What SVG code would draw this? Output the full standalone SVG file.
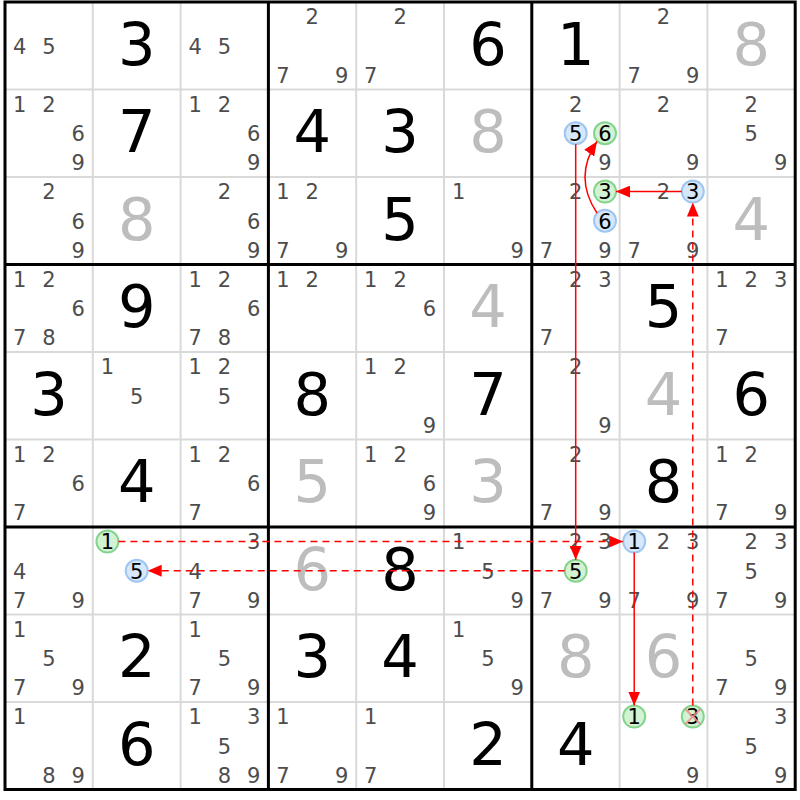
<svg xmlns="http://www.w3.org/2000/svg" width="800" height="800" viewBox="0 0 800 800">
<style>
text{font-family:"DejaVu Sans","Noto Sans",sans-serif;text-anchor:middle}
.c{font-size:21px;fill:#4d4d4d}
.h{font-size:21px;fill:#000}
.g{font-size:59px;fill:#000}
.s{font-size:59px;fill:#bdbdbd}
.c,.h{transform:translate(0px,1.2px)}
.thin{stroke:#d9d9d9;stroke-width:2}
.thick{stroke:#000;stroke-width:3}
.cb{fill:#d6e8fa;stroke:#9fc6f0;stroke-width:2}
.cg{fill:#d3f2d3;stroke:#84d48e;stroke-width:2}
.l{fill:none;stroke:#ff0000;stroke-width:1.5}
.d{stroke-dasharray:7 5}
.x{stroke:#f08a8a;stroke-width:2;opacity:0.85}
</style>
<defs>
<marker id="ah" markerUnits="userSpaceOnUse" markerWidth="15" markerHeight="12" refX="14" refY="6" orient="auto">
<path d="M0,0 L14,6 L0,12 z" fill="#ff0000"/>
</marker>
</defs>
<rect width="800" height="800" fill="#fff"/>
<g id="grid">
<path class="thin" d="M92.8,2V789.5M180.6,2V789.5M356.2,2V789.5M444,2V789.5M619.6,2V789.5M707.4,2V789.5M5,89.5H795.2M5,177H795.2M5,352H795.2M5,439.5H795.2M5,614.5H795.2M5,702H795.2"/>
<path class="thick" d="M268.4,2V789.5M531.8,2V789.5M5,264.5H795.2M5,527H795.2"/>
<rect class="thick" x="5" y="2" width="790.2" height="787.5" fill="none"/>
</g>
<g id="r0c0"><text class="c" x="19.6" y="52.5">4</text><text class="c" x="48.9" y="52.5">5</text></g>
<g id="r0c1"><text class="g" x="136.7" y="64.75">3</text></g>
<g id="r0c2"><text class="c" x="195.2" y="52.5">4</text><text class="c" x="224.5" y="52.5">5</text></g>
<g id="r0c3"><text class="c" x="312.3" y="23.3">2</text><text class="c" x="283" y="81.6">7</text><text class="c" x="341.6" y="81.6">9</text></g>
<g id="r0c4"><text class="c" x="400.1" y="23.3">2</text><text class="c" x="370.8" y="81.6">7</text></g>
<g id="r0c5"><text class="g" x="487.9" y="64.75">6</text></g>
<g id="r0c6"><text class="g" x="575.7" y="64.75">1</text></g>
<g id="r0c7"><text class="c" x="663.5" y="23.3">2</text><text class="c" x="634.2" y="81.6">7</text><text class="c" x="692.8" y="81.6">9</text></g>
<g id="r0c8"><text class="s" x="751.3" y="64.75">8</text></g>

<g id="r1c0"><text class="c" x="19.6" y="110.8">1</text><text class="c" x="48.9" y="110.8">2</text><text class="c" x="78.2" y="140">6</text><text class="c" x="78.2" y="169.1">9</text></g>
<g id="r1c1"><text class="g" x="136.7" y="152.25">7</text></g>
<g id="r1c2"><text class="c" x="195.2" y="110.8">1</text><text class="c" x="224.5" y="110.8">2</text><text class="c" x="253.8" y="140">6</text><text class="c" x="253.8" y="169.1">9</text></g>
<g id="r1c3"><text class="g" x="312.3" y="152.25">4</text></g>
<g id="r1c4"><text class="g" x="400.1" y="152.25">3</text></g>
<g id="r1c5"><text class="s" x="487.9" y="152.25">8</text></g>
<g id="r1c6"><text class="c" x="575.7" y="110.8">2</text><circle class="cb" cx="575.7" cy="133.25" r="11"/><text class="h" x="575.7" y="140">5</text><circle class="cg" cx="605" cy="133.25" r="11"/><text class="h" x="605" y="140">6</text><text class="c" x="605" y="169.1">9</text></g>
<g id="r1c7"><text class="c" x="663.5" y="110.8">2</text><text class="c" x="692.8" y="169.1">9</text></g>
<g id="r1c8"><text class="c" x="751.3" y="110.8">2</text><text class="c" x="751.3" y="140">5</text><text class="c" x="780.6" y="169.1">9</text></g>

<g id="r2c0"><text class="c" x="48.9" y="198.3">2</text><text class="c" x="78.2" y="227.5">6</text><text class="c" x="78.2" y="256.6">9</text></g>
<g id="r2c1"><text class="s" x="136.7" y="239.75">8</text></g>
<g id="r2c2"><text class="c" x="224.5" y="198.3">2</text><text class="c" x="253.8" y="227.5">6</text><text class="c" x="253.8" y="256.6">9</text></g>
<g id="r2c3"><text class="c" x="283" y="198.3">1</text><text class="c" x="312.3" y="198.3">2</text><text class="c" x="283" y="256.6">7</text><text class="c" x="341.6" y="256.6">9</text></g>
<g id="r2c4"><text class="g" x="400.1" y="239.75">5</text></g>
<g id="r2c5"><text class="c" x="458.6" y="198.3">1</text><text class="c" x="517.2" y="256.6">9</text></g>
<g id="r2c6"><text class="c" x="575.7" y="198.3">2</text><circle class="cg" cx="605" cy="191.6" r="11"/><text class="h" x="605" y="198.3">3</text><circle class="cb" cx="605" cy="220.75" r="11"/><text class="h" x="605" y="227.5">6</text><text class="c" x="546.4" y="256.6">7</text><text class="c" x="605" y="256.6">9</text></g>
<g id="r2c7"><text class="c" x="663.5" y="198.3">2</text><circle class="cb" cx="692.8" cy="191.6" r="11"/><text class="h" x="692.8" y="198.3">3</text><text class="c" x="634.2" y="256.6">7</text><text class="c" x="692.8" y="256.6">9</text></g>
<g id="r2c8"><text class="s" x="751.3" y="239.75">4</text></g>

<g id="r3c0"><text class="c" x="19.6" y="285.8">1</text><text class="c" x="48.9" y="285.8">2</text><text class="c" x="78.2" y="315">6</text><text class="c" x="19.6" y="344.1">7</text><text class="c" x="48.9" y="344.1">8</text></g>
<g id="r3c1"><text class="g" x="136.7" y="327.25">9</text></g>
<g id="r3c2"><text class="c" x="195.2" y="285.8">1</text><text class="c" x="224.5" y="285.8">2</text><text class="c" x="253.8" y="315">6</text><text class="c" x="195.2" y="344.1">7</text><text class="c" x="224.5" y="344.1">8</text></g>
<g id="r3c3"><text class="c" x="283" y="285.8">1</text><text class="c" x="312.3" y="285.8">2</text></g>
<g id="r3c4"><text class="c" x="370.8" y="285.8">1</text><text class="c" x="400.1" y="285.8">2</text><text class="c" x="429.4" y="315">6</text></g>
<g id="r3c5"><text class="s" x="487.9" y="327.25">4</text></g>
<g id="r3c6"><text class="c" x="575.7" y="285.8">2</text><text class="c" x="605" y="285.8">3</text><text class="c" x="546.4" y="344.1">7</text></g>
<g id="r3c7"><text class="g" x="663.5" y="327.25">5</text></g>
<g id="r3c8"><text class="c" x="722" y="285.8">1</text><text class="c" x="751.3" y="285.8">2</text><text class="c" x="780.6" y="285.8">3</text><text class="c" x="722" y="344.1">7</text></g>

<g id="r4c0"><text class="g" x="48.9" y="414.75">3</text></g>
<g id="r4c1"><text class="c" x="107.4" y="373.3">1</text><text class="c" x="136.7" y="402.5">5</text></g>
<g id="r4c2"><text class="c" x="195.2" y="373.3">1</text><text class="c" x="224.5" y="373.3">2</text><text class="c" x="224.5" y="402.5">5</text></g>
<g id="r4c3"><text class="g" x="312.3" y="414.75">8</text></g>
<g id="r4c4"><text class="c" x="370.8" y="373.3">1</text><text class="c" x="400.1" y="373.3">2</text><text class="c" x="429.4" y="431.6">9</text></g>
<g id="r4c5"><text class="g" x="487.9" y="414.75">7</text></g>
<g id="r4c6"><text class="c" x="575.7" y="373.3">2</text><text class="c" x="605" y="431.6">9</text></g>
<g id="r4c7"><text class="s" x="663.5" y="414.75">4</text></g>
<g id="r4c8"><text class="g" x="751.3" y="414.75">6</text></g>

<g id="r5c0"><text class="c" x="19.6" y="460.8">1</text><text class="c" x="48.9" y="460.8">2</text><text class="c" x="78.2" y="490">6</text><text class="c" x="19.6" y="519.1">7</text></g>
<g id="r5c1"><text class="g" x="136.7" y="502.25">4</text></g>
<g id="r5c2"><text class="c" x="195.2" y="460.8">1</text><text class="c" x="224.5" y="460.8">2</text><text class="c" x="253.8" y="490">6</text><text class="c" x="195.2" y="519.1">7</text></g>
<g id="r5c3"><text class="s" x="312.3" y="502.25">5</text></g>
<g id="r5c4"><text class="c" x="370.8" y="460.8">1</text><text class="c" x="400.1" y="460.8">2</text><text class="c" x="429.4" y="490">6</text><text class="c" x="429.4" y="519.1">9</text></g>
<g id="r5c5"><text class="s" x="487.9" y="502.25">3</text></g>
<g id="r5c6"><text class="c" x="575.7" y="460.8">2</text><text class="c" x="546.4" y="519.1">7</text><text class="c" x="605" y="519.1">9</text></g>
<g id="r5c7"><text class="g" x="663.5" y="502.25">8</text></g>
<g id="r5c8"><text class="c" x="722" y="460.8">1</text><text class="c" x="751.3" y="460.8">2</text><text class="c" x="722" y="519.1">7</text><text class="c" x="780.6" y="519.1">9</text></g>

<g id="r6c0"><text class="c" x="19.6" y="577.5">4</text><text class="c" x="19.6" y="606.6">7</text><text class="c" x="78.2" y="606.6">9</text></g>
<g id="r6c1"><circle class="cg" cx="107.4" cy="541.6" r="11"/><text class="h" x="107.4" y="548.3">1</text><circle class="cb" cx="136.7" cy="570.75" r="11"/><text class="h" x="136.7" y="577.5">5</text></g>
<g id="r6c2"><text class="c" x="253.8" y="548.3">3</text><text class="c" x="195.2" y="577.5">4</text><text class="c" x="195.2" y="606.6">7</text><text class="c" x="253.8" y="606.6">9</text></g>
<g id="r6c3"><text class="s" x="312.3" y="589.75">6</text></g>
<g id="r6c4"><text class="g" x="400.1" y="589.75">8</text></g>
<g id="r6c5"><text class="c" x="458.6" y="548.3">1</text><text class="c" x="487.9" y="577.5">5</text><text class="c" x="517.2" y="606.6">9</text></g>
<g id="r6c6"><text class="c" x="575.7" y="548.3">2</text><text class="c" x="605" y="548.3">3</text><circle class="cg" cx="575.7" cy="570.75" r="11"/><text class="h" x="575.7" y="577.5">5</text><text class="c" x="546.4" y="606.6">7</text><text class="c" x="605" y="606.6">9</text></g>
<g id="r6c7"><circle class="cb" cx="634.2" cy="541.6" r="11"/><text class="h" x="634.2" y="548.3">1</text><text class="c" x="663.5" y="548.3">2</text><text class="c" x="692.8" y="548.3">3</text><text class="c" x="634.2" y="606.6">7</text><text class="c" x="692.8" y="606.6">9</text></g>
<g id="r6c8"><text class="c" x="751.3" y="548.3">2</text><text class="c" x="780.6" y="548.3">3</text><text class="c" x="751.3" y="577.5">5</text><text class="c" x="722" y="606.6">7</text><text class="c" x="780.6" y="606.6">9</text></g>

<g id="r7c0"><text class="c" x="19.6" y="635.8">1</text><text class="c" x="48.9" y="665">5</text><text class="c" x="19.6" y="694.1">7</text><text class="c" x="78.2" y="694.1">9</text></g>
<g id="r7c1"><text class="g" x="136.7" y="677.25">2</text></g>
<g id="r7c2"><text class="c" x="195.2" y="635.8">1</text><text class="c" x="224.5" y="665">5</text><text class="c" x="195.2" y="694.1">7</text><text class="c" x="253.8" y="694.1">9</text></g>
<g id="r7c3"><text class="g" x="312.3" y="677.25">3</text></g>
<g id="r7c4"><text class="g" x="400.1" y="677.25">4</text></g>
<g id="r7c5"><text class="c" x="458.6" y="635.8">1</text><text class="c" x="487.9" y="665">5</text><text class="c" x="517.2" y="694.1">9</text></g>
<g id="r7c6"><text class="s" x="575.7" y="677.25">8</text></g>
<g id="r7c7"><text class="s" x="663.5" y="677.25">6</text></g>
<g id="r7c8"><text class="c" x="751.3" y="665">5</text><text class="c" x="722" y="694.1">7</text><text class="c" x="780.6" y="694.1">9</text></g>

<g id="r8c0"><text class="c" x="19.6" y="723.3">1</text><text class="c" x="48.9" y="781.6">8</text><text class="c" x="78.2" y="781.6">9</text></g>
<g id="r8c1"><text class="g" x="136.7" y="764.75">6</text></g>
<g id="r8c2"><text class="c" x="195.2" y="723.3">1</text><text class="c" x="253.8" y="723.3">3</text><text class="c" x="224.5" y="752.5">5</text><text class="c" x="224.5" y="781.6">8</text><text class="c" x="253.8" y="781.6">9</text></g>
<g id="r8c3"><text class="c" x="283" y="723.3">1</text><text class="c" x="283" y="781.6">7</text><text class="c" x="341.6" y="781.6">9</text></g>
<g id="r8c4"><text class="c" x="370.8" y="723.3">1</text><text class="c" x="370.8" y="781.6">7</text></g>
<g id="r8c5"><text class="g" x="487.9" y="764.75">2</text></g>
<g id="r8c6"><text class="g" x="575.7" y="764.75">4</text></g>
<g id="r8c7"><circle class="cg" cx="634.2" cy="716.6" r="11"/><text class="h" x="634.2" y="723.3">1</text><circle class="cg" cx="692.8" cy="716.6" r="11"/><text class="h" x="692.8" y="723.3">3</text><path class="x" d="M685.3,709.1L700.3,724.1M700.3,709.1L685.3,724.1"/><text class="c" x="692.8" y="781.6">9</text></g>
<g id="r8c8"><text class="c" x="780.6" y="723.3">3</text><text class="c" x="751.3" y="752.5">5</text><text class="c" x="780.6" y="781.6">9</text></g>

<g id="connectors">
<path class="l" d="M575.7,144.3L575.7,559.7" marker-end="url(#ah)"/>
<path class="l" d="M597,213Q573,177 597,141.5" marker-end="url(#ah)"/>
<path class="l" d="M681.8,191.6L616,191.6" marker-end="url(#ah)"/>
<path class="l d" d="M692.8,705.6L692.8,202.6" marker-end="url(#ah)"/>
<path class="l d" d="M118.4,541.6L623.2,541.6" marker-end="url(#ah)"/>
<path class="l d" d="M564.7,570.75L147.7,570.75" marker-end="url(#ah)"/>
<path class="l" d="M634.2,552.6L634.2,705.6" marker-end="url(#ah)"/>
</g>
</svg>
